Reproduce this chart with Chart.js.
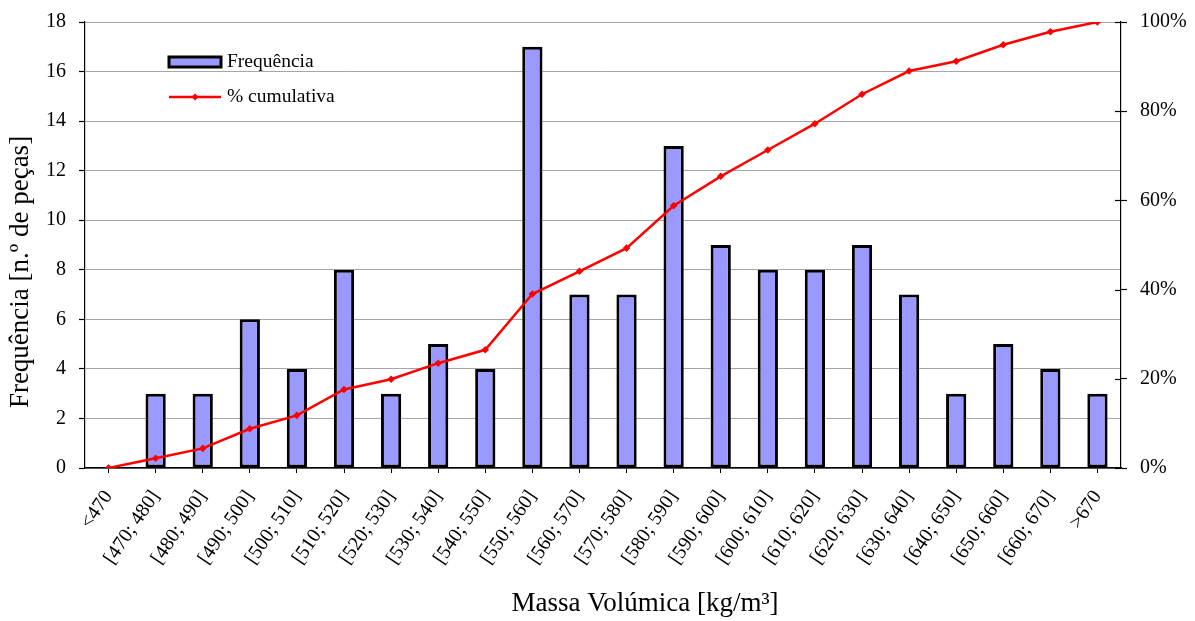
<!DOCTYPE html>
<html>
<head>
<meta charset="utf-8">
<script src="https://cdn.jsdelivr.net/npm/chart.js@4.4.1/dist/chart.umd.min.js"></script>
<style>
  html, body { margin: 0; padding: 0; background: #fff; }
  #wrap { width: 1195px; height: 621px; }
</style>
</head>
<body>
<div id="wrap"><canvas id="c" width="1195" height="621"></canvas></div>
<script>
// Density classes (kg/m3)
const classes = ['<470', '[470; 480]', '[480; 490]', '[490; 500]', '[500; 510]', '[510; 520]',
  '[520; 530]', '[530; 540]', '[540; 550]', '[550; 560]', '[560; 570]', '[570; 580]',
  '[580; 590]', '[590; 600]', '[600; 610]', '[610; 620]', '[620; 630]', '[630; 640]',
  '[640; 650]', '[650; 660]', '[660; 670]', '>670'];

// Number of pieces in each class
const frequencia = [0, 3, 3, 6, 4, 8, 3, 5, 4, 17, 7, 7, 13, 9, 8, 8, 9, 7, 3, 5, 4, 3];

// Cumulative share of pieces (%)
const cumulativa = [0, 2.2, 4.4, 8.8, 11.8, 17.6, 19.9, 23.5, 26.5, 39.0, 44.1, 49.3,
  58.8, 65.4, 71.3, 77.2, 83.8, 89.0, 91.2, 94.9, 97.8, 100];

// Axis ranges and steps
const freqAxis = { min: 0, max: 18, step: 2 };
const pctAxis = { min: 0, max: 100, step: 20 };

const FONT = '"Liberation Serif", "Times New Roman", serif';
const BAR_FILL = '#9999ff';
const LINE_RED = '#ff0000';

// Keep the vertical axes from pushing the plot area down
function fixVerticalAxis(width) {
  return s => {
    s.width = width;
    s.paddingTop = 10;
    s.paddingBottom = 10;
  };
}

// Axis titles, in-plot legend and the inner half of the right-hand ticks
const annotations = {
  id: 'annotations',
  afterDraw(chart) {
    const ctx = chart.ctx;
    const area = chart.chartArea;
    ctx.save();

    // right axis ticks cross the axis line
    const y2 = chart.scales.y2;
    ctx.strokeStyle = '#000';
    ctx.lineWidth = 1.2;
    y2.ticks.forEach(t => {
      const py = Math.round(y2.getPixelForValue(t.value)) + 0.5;
      ctx.beginPath();
      ctx.moveTo(area.right - 6, py);
      ctx.lineTo(area.right, py);
      ctx.stroke();
    });

    ctx.fillStyle = '#000';
    ctx.textBaseline = 'middle';
    ctx.textAlign = 'center';
    ctx.font = '27px ' + FONT;
    // x title
    ctx.fillText('Massa Volúmica [kg/m³]', 645, 604);
    // y title
    ctx.save();
    ctx.translate(21, 272);
    ctx.rotate(-Math.PI / 2);
    ctx.fillText('Frequência [n.º de peças]', 0, 0);
    ctx.restore();

    // legend
    const lx = area.left + 84, ly1 = area.top + 40, ly2 = area.top + 75;
    ctx.fillStyle = BAR_FILL;
    ctx.strokeStyle = '#000';
    ctx.lineWidth = 3;
    ctx.fillRect(lx, ly1 - 5, 52, 10);
    ctx.strokeRect(lx, ly1 - 5, 52, 10);
    ctx.strokeStyle = LINE_RED;
    ctx.lineWidth = 2.5;
    ctx.beginPath();
    ctx.moveTo(lx, ly2);
    ctx.lineTo(lx + 52, ly2);
    ctx.stroke();
    ctx.fillStyle = LINE_RED;
    ctx.beginPath();
    ctx.moveTo(lx + 26, ly2 - 3.5);
    ctx.lineTo(lx + 29.5, ly2);
    ctx.lineTo(lx + 26, ly2 + 3.5);
    ctx.lineTo(lx + 22.5, ly2);
    ctx.closePath();
    ctx.fill();
    ctx.fillStyle = '#000';
    ctx.textAlign = 'left';
    ctx.font = '19.5px ' + FONT;
    ctx.fillText('Frequência', lx + 58, ly1);
    ctx.fillText('% cumulativa', lx + 58, ly2);
    ctx.restore();
  }
};

new Chart(document.getElementById('c'), {
  type: 'bar',
  data: {
    labels: classes,
    datasets: [
      {
        type: 'line',
        label: '% cumulativa',
        data: cumulativa,
        yAxisID: 'y2',
        borderColor: LINE_RED,
        backgroundColor: LINE_RED,
        borderWidth: 2.5,
        pointStyle: 'rectRot',
        pointRadius: 3.8,
        pointBorderWidth: 0,
        tension: 0,
        order: 0
      },
      {
        label: 'Frequência',
        data: frequencia,
        yAxisID: 'y',
        backgroundColor: BAR_FILL,
        borderColor: '#000',
        borderWidth: 3,
        borderSkipped: false,
        barPercentage: 0.43,
        categoryPercentage: 1,
        order: 1
      }
    ]
  },
  options: {
    responsive: false,
    animation: false,
    devicePixelRatio: 1,
    layout: { padding: { top: 22, left: 0, right: 0, bottom: 0 } },
    plugins: { legend: { display: false }, tooltip: { enabled: false } },
    scales: {
      x: {
        grid: { display: true, drawOnChartArea: false, offset: false, tickLength: 5, tickColor: '#000', tickWidth: 1 },
        border: { color: '#000', width: 1.5 },
        ticks: { color: '#000', font: { family: FONT, size: 20 }, minRotation: 56, maxRotation: 56, padding: 13, autoSkip: false },
        afterFit(s) { s.height = 153; }
      },
      y: {
        position: 'left',
        min: freqAxis.min, max: freqAxis.max,
        grid: { color: '#a6a6a6', lineWidth: 1, tickLength: 6, tickColor: '#000', tickWidth: 1.2 },
        border: { color: '#000', width: 1.2 },
        ticks: { stepSize: freqAxis.step, color: '#000', font: { family: FONT, size: 20 }, padding: 13 },
        afterFit: fixVerticalAxis(85)
      },
      y2: {
        position: 'right',
        min: pctAxis.min, max: pctAxis.max,
        grid: { drawOnChartArea: false, tickLength: 6, tickColor: '#000', tickWidth: 1.2 },
        border: { color: '#000', width: 1.2 },
        ticks: { stepSize: pctAxis.step, color: '#000', font: { family: FONT, size: 20 }, padding: 13,
          callback: v => v + '%' },
        afterFit: fixVerticalAxis(74)
      }
    }
  },
  plugins: [annotations]
});
</script>
</body>
</html>
